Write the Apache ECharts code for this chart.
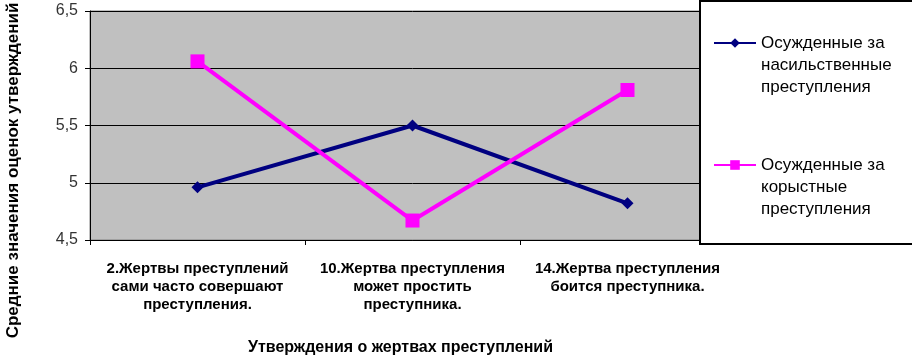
<!DOCTYPE html>
<html>
<head>
<meta charset="utf-8">
<script src="https://cdn.jsdelivr.net/npm/echarts@6/dist/echarts.min.js"></script>
<style>
    html, body { margin: 0; padding: 0; background: #fff; }
    #chart { width: 912px; height: 356px; }
</style>
</head>
<body>
<div id="chart"></div>
<script>
let categories = [
    '2.Жертвы преступлений\nсами часто совершают\nпреступления.',
    '10.Жертва преступления\nможет простить\nпреступника.',
    '14.Жертва преступления\nбоится преступника.'
];
let violent = [4.96, 5.5, 4.82];   // Осужденные за насильственные преступления
let mercenary = [6.06, 4.67, 5.81]; // Осужденные за корыстные преступления
let seriesNames = [
    'Осужденные за насильственные преступления',
    'Осужденные за корыстные преступления'
];
let legendLabels = [
    'Осужденные за\nнасильственные\nпреступления',
    'Осужденные за\nкорыстные\nпреступления'
];

let chart = echarts.init(document.getElementById('chart'));

let option = {
    backgroundColor: '#fff',
    animation: false,
    grid: {
        left: 90,
        right: 177,
        top: 11,
        bottom: 116,
        outerBoundsMode: 'none',
        show: true,
        backgroundColor: '#c0c0c0',
        borderColor: '#808080',
        borderWidth: 1
    },
    // legend frame
    graphic: [{
        type: 'rect',
        left: 699,
        top: 0,
        shape: { width: 230, height: 243 },
        style: { fill: '#fff', stroke: '#000', lineWidth: 2 },
        z: 5
    }],
    legend: {
        orient: 'vertical',
        left: 708,
        top: -17,
        itemWidth: 42,
        itemHeight: 12,
        itemGap: 12,
        z: 10,
        formatter: name => '\n\n' + legendLabels[seriesNames.indexOf(name)],
        textStyle: {
            fontFamily: 'Liberation Sans',
            fontSize: 17,
            lineHeight: 22,
            color: '#000'
        },
        data: seriesNames
    },
    xAxis: {
        type: 'category',
        data: categories,
        boundaryGap: true,
        name: 'Утверждения о жертвах преступлений',
        nameLocation: 'middle',
        nameGap: 100,
        nameTextStyle: {
            fontFamily: 'Liberation Sans',
            fontWeight: 'bold',
            fontSize: 16,
            color: '#000',
            padding: [0, 24, 0, 0]
        },
        axisLine: { lineStyle: { color: '#000', width: 1 } },
        axisTick: { show: true, length: 5, lineStyle: { color: '#000' } },
        axisLabel: {
            margin: 20,
            interval: 0,
            fontFamily: 'Liberation Sans',
            fontWeight: 'bold',
            fontSize: 15,
            lineHeight: 18,
            color: '#000'
        },
        splitLine: { show: false }
    },
    yAxis: {
        type: 'value',
        min: 4.5,
        max: 6.5,
        interval: 0.5,
        name: 'Средние значения оценок утверждений',
        nameLocation: 'middle',
        nameGap: 68,
        nameTextStyle: {
            fontFamily: 'Liberation Sans',
            fontWeight: 'bold',
            fontSize: 17,
            color: '#000',
            padding: [0, 90, 0, 0]
        },
        axisLine: { show: true, lineStyle: { color: '#000', width: 1 } },
        axisTick: { show: true, length: 5, lineStyle: { color: '#000' } },
        axisLabel: {
            margin: 12,
            fontFamily: 'Liberation Sans',
            fontSize: 16,
            color: '#333',
            formatter: v => String(v).replace('.', ',')
        },
        splitLine: { show: true, lineStyle: { color: '#000', width: 1 } }
    },
    series: [
        {
            name: seriesNames[0],
            type: 'line',
            data: violent,
            symbol: 'diamond',
            symbolSize: 12,
            lineStyle: { color: '#000080', width: 4 },
            itemStyle: { color: '#000080' }
        },
        {
            name: seriesNames[1],
            type: 'line',
            data: mercenary,
            symbol: 'rect',
            symbolSize: 14,
            lineStyle: { color: '#ff00ff', width: 4 },
            itemStyle: { color: '#ff00ff' }
        }
    ]
};

chart.setOption(option);
</script>
</body>
</html>
